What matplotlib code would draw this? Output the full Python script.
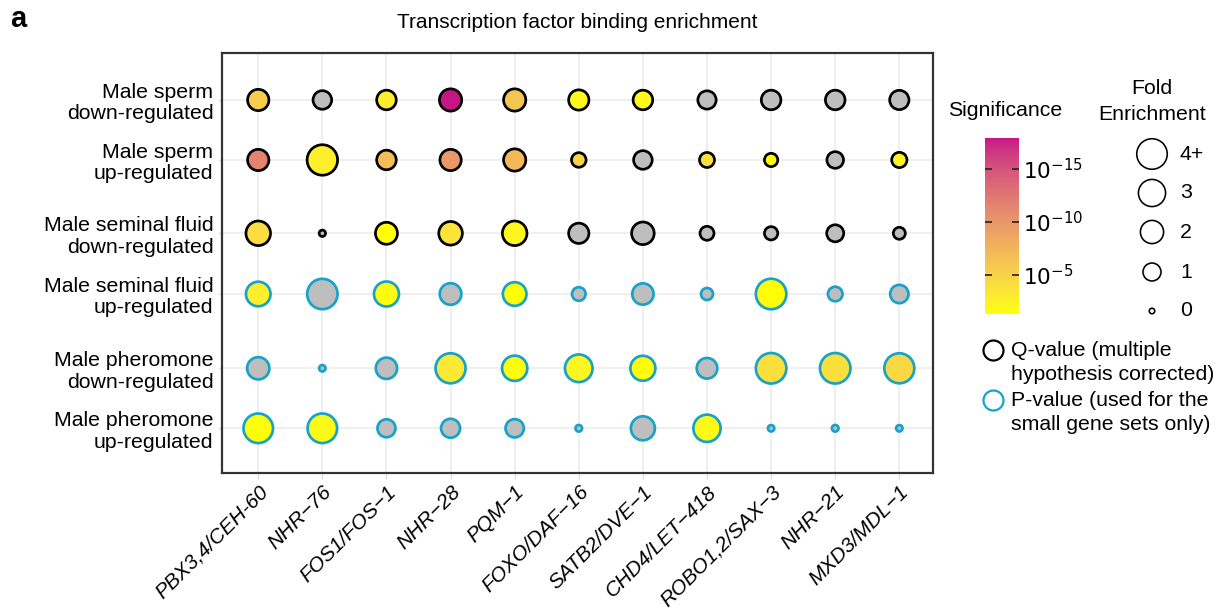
import numpy as np
import matplotlib
matplotlib.use("Agg")
import matplotlib.pyplot as plt
from matplotlib.colors import ListedColormap, Normalize, to_rgb
from matplotlib.cm import ScalarMappable

plt.rcParams['font.family'] = ['Liberation Sans', 'DejaVu Sans']

# ---------------- data ----------------
tfs = ["PBX3,4/CEH-60", "NHR\u221276", "FOS1/FOS\u22121", "NHR\u221228", "PQM\u22121",
       "FOXO/DAF\u221216", "SATB2/DVE\u22121", "CHD4/LET\u2212418", "ROBO1,2/SAX\u22123",
       "NHR\u221221", "MXD3/MDL\u22121"]

gene_sets = ["Male sperm\ndown-regulated", "Male sperm\nup-regulated",
             "Male seminal fluid\ndown-regulated", "Male seminal fluid\nup-regulated",
             "Male pheromone\ndown-regulated", "Male pheromone\nup-regulated"]

test_type = ["Q", "Q", "Q", "P", "P", "P"]

nan = np.nan
# fold enrichment (rows follow gene_sets order)
fold_sperm_down = [1.6, 1.1, 1.27, 1.8, 1.8, 1.4, 1.27, 1.05, 1.27, 1.27, 1.22]
fold_sperm_up = [1.6, 4.2, 1.27, 1.6, 1.8, 0.53, 1.1, 0.58, 0.39, 0.79, 0.61]
fold_sf_down = [2.33, 0.005, 1.74, 2.1, 2.33, 1.4, 1.87, 0.46, 0.39, 0.85, 0.27]
fold_sf_up = [2.33, 3.95, 2.43, 1.66, 2.1, 0.42, 1.6, 0.27, 4.0, 0.53, 1.05]
fold_ph_down = [1.8, 0.005, 1.6, 3.84, 2.5, 3.13, 2.43, 1.46, 4.1, 4.1, 3.84]
fold_ph_up = [3.7, 3.7, 1.0, 1.17, 1.05, 0.008, 2.19, 3.04, 0.005, 0.008, 0.005]

# significance as -log10(q or p); nan = not significant (grey)
sig_sperm_down = [5.5, nan, 2.8, 17.9, 6.2, 2.0, 1.9, nan, nan, nan, nan]
sig_sperm_up = [11.5, 2.7, 6.8, 9.8, 7.2, 5.0, nan, 4.0, 1.4, nan, 2.3]
sig_sf_down = [4.2, nan, 1.4, 3.6, 2.0, nan, nan, nan, nan, nan, nan]
sig_sf_up = [2.6, nan, 1.5, nan, 1.4, nan, nan, nan, 1.4, nan, nan]
sig_ph_down = [nan, nan, nan, 3.3, 1.4, 2.1, 1.4, nan, 3.9, 3.9, 4.6]
sig_ph_up = [1.4, 1.8, nan, nan, nan, nan, nan, 1.8, nan, nan, nan]

folds = [fold_sperm_down, fold_sperm_up, fold_sf_down, fold_sf_up, fold_ph_down, fold_ph_up]
sigs = [sig_sperm_down, sig_sperm_up, sig_sf_down, sig_sf_up, sig_ph_down, sig_ph_up]

sig_limits = (1.3, 17.9)
cbar_ticks = [5, 10, 15]
size_legend_vals = [4, 3, 2, 1, 0]
size_legend_labels = ["4+", "3", "2", "1", "0"]

# ---------------- styling helpers ----------------
DPI = 100
W, H = 1218, 611
GREY = "#BEBEBE"
BLUE = "#17A2C8"


def srgb_to_lab(c):
    c = np.asarray(c, float)
    lin = np.where(c <= 0.04045, c / 12.92, ((c + 0.055) / 1.055) ** 2.4)
    M = np.array([[0.4124, 0.3576, 0.1805], [0.2126, 0.7152, 0.0722], [0.0193, 0.1192, 0.9505]])
    xyz = M @ lin
    xyz = xyz / np.array([0.95047, 1.0, 1.08883])
    f = np.where(xyz > (6 / 29) ** 3, np.cbrt(xyz), xyz / (3 * (6 / 29) ** 2) + 4 / 29)
    return np.array([116 * f[1] - 16, 500 * (f[0] - f[1]), 200 * (f[1] - f[2])])


def lab_to_srgb(lab):
    L, a, b = lab
    fy = (L + 16) / 116
    fx = fy + a / 500
    fz = fy - b / 200
    f = np.array([fx, fy, fz])
    xyz = np.where(f > 6 / 29, f ** 3, 3 * (6 / 29) ** 2 * (f - 4 / 29))
    xyz = xyz * np.array([0.95047, 1.0, 1.08883])
    Minv = np.array([[3.2406, -1.5372, -0.4986], [-0.9689, 1.8758, 0.0415], [0.0557, -0.2040, 1.0570]])
    lin = Minv @ xyz
    lin = np.clip(lin, 0, 1)
    c = np.where(lin <= 0.0031308, 12.92 * lin, 1.055 * lin ** (1 / 2.4) - 0.055)
    return np.clip(c, 0, 1)


lab_lo = srgb_to_lab(to_rgb("#FFFF00"))
lab_hi = srgb_to_lab(to_rgb("#C71585"))
cmap = ListedColormap([lab_to_srgb(lab_lo + (lab_hi - lab_lo) * t) for t in np.linspace(0, 1, 256)])
norm = Normalize(*sig_limits)


def px_diam(f):
    f = np.minimum(np.asarray(f, float), 4.0)
    return 5.5 + 25.0 * np.sqrt(f / 4.0)


def s_from_px(d):
    return (np.asarray(d) * 72.0 / DPI) ** 2


# ---------------- figure ----------------
fig = plt.figure(figsize=(W / DPI, H / DPI), dpi=DPI)

ax_l, ax_r, ax_t, ax_b = 221.7, 933.3, 53.0, 472.5
ax = fig.add_axes([ax_l / W, 1 - ax_b / H, (ax_r - ax_l) / W, (ax_b - ax_t) / H])

# row positions (bottom -> top), extra space between the pairs of gene sets
row_steps = [1.0, 1.238, 1.012, 1.222, 1.0]
row_pos_bottom_up = np.concatenate([[0], np.cumsum(row_steps)])
row_pos = row_pos_bottom_up[::-1]  # aligned with gene_sets order (top first)

x = np.arange(len(tfs))
for i, gs in enumerate(gene_sets):
    f = np.array(folds[i])
    s = np.array(sigs[i], float)
    cols = [GREY if np.isnan(v) else cmap(norm(v)) for v in s]
    ec = "black" if test_type[i] == "Q" else BLUE
    ax.scatter(x, np.full(len(x), row_pos[i]), s=s_from_px(px_diam(f)), c=cols,
               edgecolors=ec, linewidths=2.7 * 72 / DPI, zorder=3)

ax.set_xlim(-0.57, len(tfs) - 1 + 0.53)
ax.set_ylim(-0.737, row_pos[0] + 0.783)
ax.set_xticks(x)
ax.set_xticklabels(tfs, rotation=45, ha="right", va="top", rotation_mode="anchor",
                   fontsize=15, style="italic")
ax.set_yticks(row_pos)
ax.set_yticklabels(gene_sets, fontsize=15.3, linespacing=1.15)
ax.grid(True, color="#EBEBEB", linewidth=1.5 * 72 / DPI, zorder=0)
ax.set_axisbelow(True)
ax.tick_params(axis="x", length=4, width=1.0, color="#DDDDDD", pad=3)
ax.tick_params(axis="y", length=3, width=1.0, color="#DDDDDD", pad=3)
for sp in ax.spines.values():
    sp.set_color("#333333")
    sp.set_linewidth(2.2 * 72 / DPI)

ax.set_title("Transcription factor binding enrichment", fontsize=15, pad=18)
fig.text(10 / W, 1 - 19 / H, "a", fontsize=21, fontweight="bold", va="center", ha="left")

# ---------------- colorbar ----------------
cb_l, cb_r, cb_t, cb_b = 985, 1019, 138, 314
cax = fig.add_axes([cb_l / W, 1 - cb_b / H, (cb_r - cb_l) / W, (cb_b - cb_t) / H])
cb = fig.colorbar(ScalarMappable(norm=norm, cmap=cmap), cax=cax)
cb.outline.set_visible(False)
cb.set_ticks(cbar_ticks)
cb.set_ticklabels([r"$10^{-%d}$" % t for t in cbar_ticks])
cax.yaxis.set_ticks_position("both")
cax.tick_params(direction="in", length=5, width=1.2, color="#222222", labelsize=15.5, pad=3,
                labelleft=False, labelright=True)

# ---------------- overlay legends ----------------
ov = fig.add_axes([0, 0, 1, 1], zorder=5)
ov.set_xlim(0, W)
ov.set_ylim(H, 0)
ov.axis("off")

ov.text(1005, 111, "Significance", fontsize=15.3, ha="center", va="center")
ov.text(1152, 89, "Fold", fontsize=15.3, ha="center", va="center")
ov.text(1152, 114, "Enrichment", fontsize=15.3, ha="center", va="center")

leg_y = [154, 193, 232, 272, 311]
ov.scatter([1152] * len(size_legend_vals), leg_y, s=s_from_px(px_diam(size_legend_vals)),
           facecolors="white", edgecolors="black", linewidths=1.6 * 72 / DPI)
for yy, lab in zip(leg_y, size_legend_labels):
    ov.text(1180, yy, lab, fontsize=15.3, ha="left", va="center")

ov.scatter([993], [350], s=s_from_px(20), facecolors="white", edgecolors="black",
           linewidths=2.2 * 72 / DPI)
ov.scatter([993], [400], s=s_from_px(20), facecolors="white", edgecolors=BLUE,
           linewidths=2.2 * 72 / DPI)
ov.text(1011, 350, "Q-value (multiple", fontsize=15.3, ha="left", va="center")
ov.text(1011, 375, "hypothesis corrected)", fontsize=15.3, ha="left", va="center")
ov.text(1011, 400, "P-value (used for the", fontsize=15.3, ha="left", va="center")
ov.text(1011, 425, "small gene sets only)", fontsize=15.3, ha="left", va="center")

fig.savefig("out.png", dpi=DPI)
